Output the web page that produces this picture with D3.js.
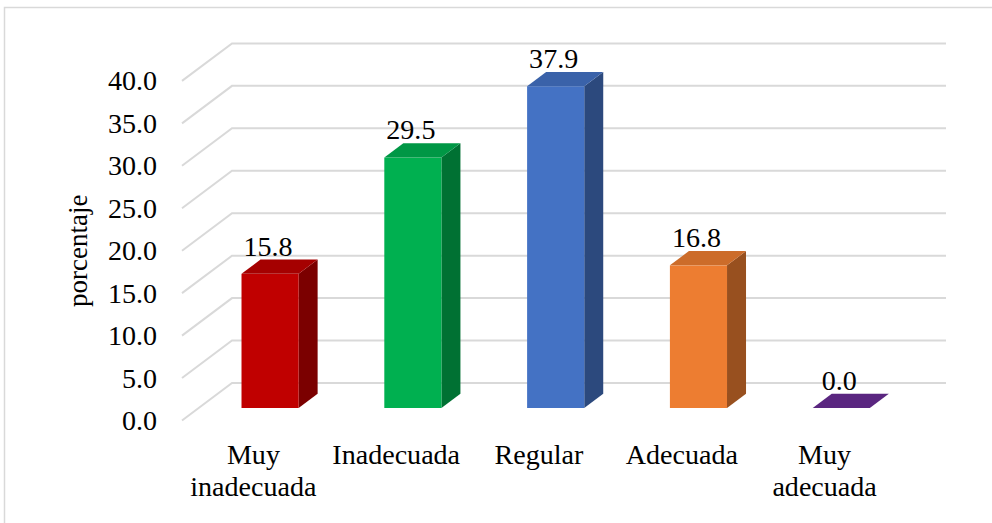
<!DOCTYPE html>
<html>
<head>
<meta charset="utf-8">
<script src="https://cdn.jsdelivr.net/npm/d3@7"></script>
<style>
  html, body { margin: 0; padding: 0; background: #fff; }
  svg { display: block; }
  text { font-family: "Liberation Serif", "Times New Roman", serif; fill: #000; }
</style>
</head>
<body>
<svg id="chart" width="992" height="523"></svg>
<script>
// Data
const categories = ["Muy inadecuada", "Inadecuada", "Regular", "Adecuada", "Muy adecuada"];
const values = [15.8, 29.5, 37.9, 16.8, 0.0];
const colors = ["#C00000", "#00B050", "#4472C4", "#ED7D31", "#7030A0"];
const yTicks = [0, 5, 10, 15, 20, 25, 30, 35, 40];
const yTitle = "porcentaje";

const svg = d3.select("#chart");

// Chart frame
svg.append("rect")
  .attr("x", 4.5).attr("y", 7.5)
  .attr("width", 1100).attr("height", 600)
  .attr("fill", "#fff").attr("stroke", "#D9D9D9").attr("stroke-width", 1.5);

// 3D projection: depth z in [0,1] shifts right and up
const DX = 50, DY = 37.5;
const proj = (x, y, z) => [x + DX * z, y - DY * z];

const x0 = 182, x1 = 896;
const x = d3.scaleBand().domain(categories).range([x0, x1])
  .paddingInner(0.6).paddingOuter(0.3);
const y = d3.scaleLinear().domain([0, 40]).range([420.5, 80.9]);

const FS = 27, SX = 1.04; // font size and horizontal stretch of text
function stretchedText(g, tx, ty, str, anchor) {
  return g.append("text")
    .attr("transform", `translate(${tx},${ty}) scale(${SX},1)`)
    .attr("text-anchor", anchor)
    .attr("font-size", FS)
    .text(str);
}

// Gridlines: side wall slant + back wall
const grid = svg.append("g").attr("stroke", "#D9D9D9").attr("stroke-width", 2).attr("fill", "none");
yTicks.forEach(t => {
  const f = proj(x0, y(t), 0), b = proj(x0, y(t), 1), e = proj(x1, y(t), 1);
  grid.append("path").attr("d", `M${f[0]},${f[1]}L${b[0]},${b[1]}L${e[0]},${e[1]}`);
});

// Tick labels
const axisG = svg.append("g");
yTicks.forEach(t => {
  stretchedText(axisG, 157, y(t) + 9.5, d3.format(".1f")(t), "end");
});

// Axis title
svg.append("text")
  .attr("transform", `translate(87,${(y(0) + y(40)) / 2}) rotate(-90) scale(1,${SX})`)
  .attr("text-anchor", "middle")
  .attr("font-size", FS)
  .text(yTitle);

// Bars
const zF = 1 / 3, zB = zF + 0.38;
const shade = (c, k) => { const o = d3.rgb(c); return d3.rgb(o.r * k, o.g * k, o.b * k).formatHex(); };
const bars = svg.append("g");
categories.forEach((c, i) => {
  const v = values[i];
  const xl = x(c), xr = x(c) + x.bandwidth();
  const yb = y(0), yt = y(v);
  const P = (px, py, z) => proj(px, py, z).join(",");
  // side face
  bars.append("polygon")
    .attr("points", [P(xr, yb, zF), P(xr, yb, zB), P(xr, yt, zB), P(xr, yt, zF)].join(" "))
    .attr("fill", shade(colors[i], 0.64));
  // front face
  if (v > 0) {
    const a = proj(xl, yt, zF), b = proj(xr, yb, zF);
    bars.append("rect")
      .attr("x", a[0]).attr("y", a[1])
      .attr("width", b[0] - a[0]).attr("height", b[1] - a[1])
      .attr("fill", colors[i]);
  }
  // top face
  bars.append("polygon")
    .attr("points", [P(xl, yt, zF), P(xr, yt, zF), P(xr, yt, zB), P(xl, yt, zB)].join(" "))
    .attr("fill", shade(colors[i], v > 0 ? 0.86 : 0.8));
  // value label
  const lp = proj((xl + xr) / 2, yt, zB);
  stretchedText(bars, proj((xl + xr) / 2, yt, zF)[0] - 2, lp[1] - 4, d3.format(".1f")(v), "middle");
});

// Category labels, wrapped to the category width
const catG = svg.append("g");
categories.forEach(c => {
  const cx = x(c) + x.bandwidth() / 2;
  const words = c.split(" ");
  const lines = [];
  let cur = "";
  const probe = catG.append("text").attr("font-size", FS);
  words.forEach(w => {
    const test = cur ? cur + " " + w : w;
    probe.text(test);
    if (probe.node().getComputedTextLength() * SX > x.step() && cur) {
      lines.push(cur); cur = w;
    } else cur = test;
  });
  lines.push(cur);
  probe.remove();
  lines.forEach((l, j) => stretchedText(catG, cx, 464 + j * 32, l, "middle"));
});
</script>
</body>
</html>
